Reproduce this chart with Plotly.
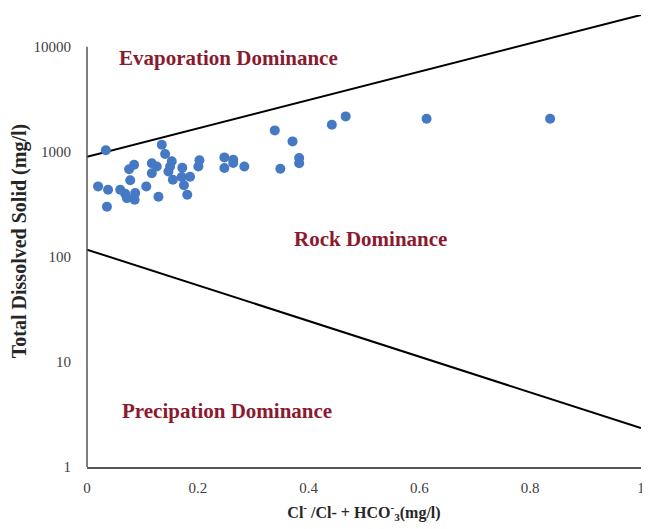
import math
import plotly.graph_objects as go

# Sample data: Cl/(Cl+HCO3) ratio vs TDS (mg/l)
ratio = [0.020, 0.034, 0.036, 0.038, 0.060, 0.069, 0.072, 0.087, 0.086, 0.078,
         0.076, 0.085, 0.107, 0.117, 0.126, 0.117, 0.129, 0.135, 0.141, 0.153,
         0.150, 0.147, 0.155, 0.172, 0.171, 0.186, 0.175, 0.181, 0.203, 0.201,
         0.248, 0.248, 0.264, 0.264, 0.284, 0.339, 0.349, 0.371, 0.383, 0.383,
         0.442, 0.467, 0.613, 0.836]
tds = [468, 1033, 299, 435, 435, 398, 362, 404, 349, 535,
       681, 752, 468, 777, 724, 624, 373, 1166, 951, 812,
       724, 649, 541, 704, 574, 578, 480, 389, 830, 724,
       883, 699, 839, 780, 724, 1596, 689, 1254, 871, 777,
       1808, 2168, 2062, 2062]

# Gibbs boundary lines
upper_x = [0, 1]
upper_y = [896, 20000]
lower_x = [0, 1]
lower_y = [117, 2.35]

y_ticks = [1, 10, 100, 1000, 10000]
x_ticks = [0, 0.2, 0.4, 0.6, 0.8, 1]
x_tick_text = ["0", "0.2", "0.4", "0.6", "0.8", "1"]

labels = ["Evaporation Dominance", "Rock Dominance", "Precipation Dominance"]
label_x = [0.256, 0.511, 0.253]
label_y = [7850, 148, 3.41]

Y_TOP = 20000

fig = go.Figure()
fig.add_trace(go.Scatter(x=upper_x, y=upper_y, mode="lines",
                         line=dict(color="black", width=2), showlegend=False,
                         hoverinfo="skip"))
fig.add_trace(go.Scatter(x=lower_x, y=lower_y, mode="lines",
                         line=dict(color="black", width=2), showlegend=False,
                         hoverinfo="skip"))
fig.add_trace(go.Scatter(x=ratio, y=tds, mode="markers",
                         marker=dict(color="#4579C4", size=10),
                         showlegend=False))

for t, lx, ly in zip(labels, label_x, label_y):
    fig.add_annotation(x=lx, y=math.log10(ly), text="<b>" + t + "</b>",
                       showarrow=False, xref="x", yref="y",
                       font=dict(family="Liberation Serif", size=21, color="#8B1A2F"))

serif = "Liberation Serif"
# the page body has an 8px default margin, so the figure is sized to fit
fig.update_layout(
    width=642, height=521,
    margin=dict(l=79, r=9, t=7, b=62),
    plot_bgcolor="white", paper_bgcolor="white",
    font=dict(family=serif, size=13, color="#404040"),
    xaxis=dict(range=[0, 1.0001], tickvals=x_ticks, ticktext=x_tick_text,
               automargin=False, ticklabeloverflow="allow",
               showline=True, linecolor="#555555", linewidth=1.5,
               showgrid=False, zeroline=False,
               ticks="outside", ticklen=6, tickcolor="rgba(0,0,0,0)",
               tickfont=dict(family=serif, size=15, color="#404040"),
               title=dict(text="<b>Cl<sup>-</sup> /Cl- + HCO<sup>-</sup><sub>3</sub>(mg/l)</b>",
                          font=dict(family=serif, size=16, color="#262626"),
                          standoff=12)),
    yaxis=dict(type="log", range=[0, math.log10(Y_TOP)], tickvals=y_ticks,
               ticktext=[str(v) for v in y_ticks],
               automargin=False, ticklabeloverflow="allow",
               showline=False, showgrid=False, zeroline=False,
               ticks="outside", ticklen=12, tickcolor="rgba(0,0,0,0)",
               tickfont=dict(family=serif, size=15, color="#404040"),
               title=dict(text="<b>Total Dissolved Solid (mg/l)</b>",
                          font=dict(family=serif, size=20, color="#262626"),
                          standoff=2)),
)
# y axis line only up to the 10000 tick
fig.add_shape(type="line", xref="paper", yref="paper", x0=0, x1=0,
              y0=0, y1=math.log10(y_ticks[-1]) / math.log10(Y_TOP),
              line=dict(color="#555555", width=1.5))

fig.write_html("out.html")
